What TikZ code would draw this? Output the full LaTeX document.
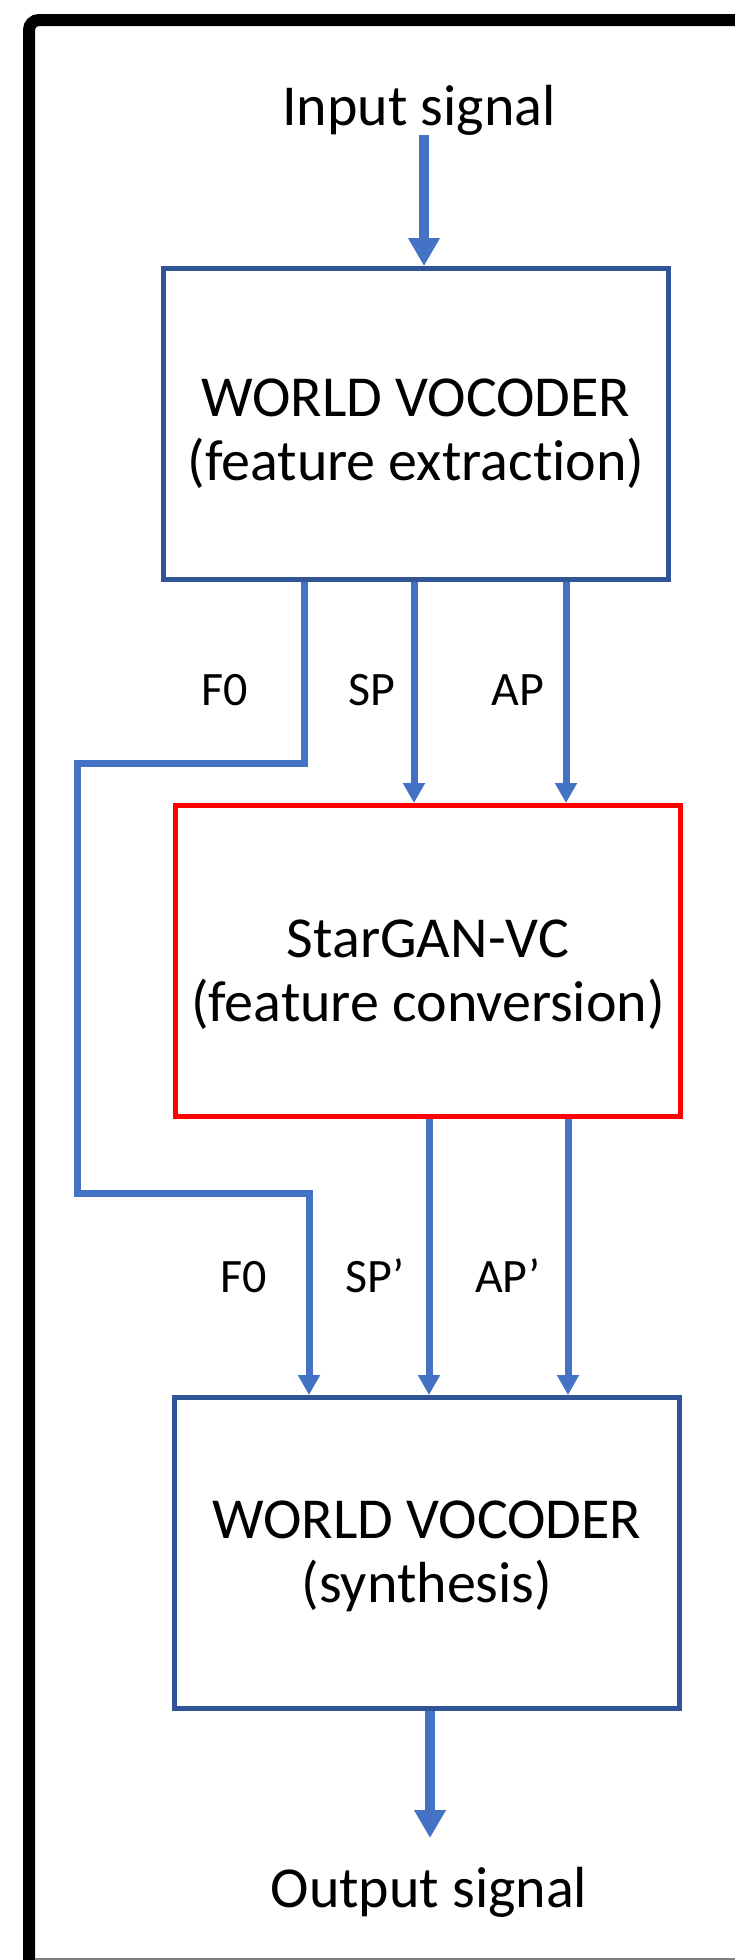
\documentclass[tikz,border=0pt]{standalone}
\usepackage{fontspec}
\setmainfont{Carlito}[Ligatures=NoCommon]
\usetikzlibrary{arrows.meta}
\definecolor{linkblue}{HTML}{4472C4}
\definecolor{boxblue}{HTML}{2F5597}
\definecolor{convred}{HTML}{FF0000}
\begin{document}
\begin{tikzpicture}[x=1pt,y=-1pt,
    block/.style = {rectangle,draw=boxblue,line width=5pt,minimum width=505pt,minimum height=311pt,align=center,inner sep=0pt,font=\fontsize{58}{64}\selectfont},
    flow/.style = {draw=linkblue,line width=7pt,-{Triangle[width=21pt,length=20pt]}},
    bigflow/.style = {draw=linkblue,line width=10pt,-{Triangle[width=30pt,length=28pt]}},
    lbl/.style = {anchor=base,inner sep=0pt,font=\fontsize{48}{58}\selectfont},
    sig/.style = {anchor=base,inner sep=0pt,font=\fontsize{58}{70}\selectfont}]
\useasboundingbox (0,0) rectangle (735,1960);
\draw[line width=12pt,rounded corners=10pt] (29,2000) |- (760,20);
\draw[gray,line width=2pt] (35,1959) -- (760,1959);
\node[sig] (insig) at (419,125) {Input signal};
\node[block] (wv1) at (416,424) {\rule{0pt}{57pt}WORLD VOCODER\\(feature extraction)};
\node[block,draw=convred] (sg) at (428,961) {\rule{0pt}{65pt}StarGAN-VC\\(feature conversion)};
\node[block] (wv2) at (427,1553) {\rule{0pt}{45pt}WORLD VOCODER\\(synthesis)};
\node[sig] (outsig) at (429,1907) {Output signal};
\coordinate (outtip) at (430,1838);
\foreach \t/\x [count=\j] in {F0/225, SP/372, AP/518}
    \node[lbl] (up\j) at (\x,705) {\t};
\foreach \t/\x [count=\j] in {F0/244, SP’/375, AP’/508}
    \node[lbl] (lo\j) at (\x,1292) {\t};
\draw[bigflow] (insig.south -| 424,0) -- (wv1.north -| 424,0);
\draw[flow] (wv1.south -| 414,0) -- (sg.north -| 414,0);
\draw[flow] (wv1.south -| 566,0) -- (sg.north -| 566,0);
\draw[flow] (wv1.south -| 304,0) |- (77,763) |- (309,1193) -- (wv2.north -| 309,0);
\draw[flow] (sg.south -| 429,0) -- (wv2.north -| 429,0);
\draw[flow] (sg.south -| 568,0) -- (wv2.north -| 568,0);
\draw[bigflow] (wv2.south -| outtip) -- (outtip);
\end{tikzpicture}
\end{document}
